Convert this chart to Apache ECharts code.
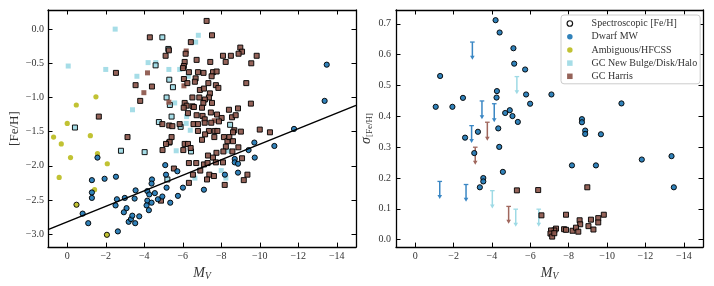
<!DOCTYPE html>
<html><head><meta charset="utf-8">
<script src="https://cdn.jsdelivr.net/npm/echarts@6/dist/echarts.min.js"></script>
<style>html,body{margin:0;padding:0;background:#fff}#c{width:714px;height:286px}</style>
</head><body><div id="c"></div>
<script>
// ---------- DATA (M_V, [Fe/H]) left panel ----------
const dwarfLeft = [[-1.57,-1.88],[-1.28,-2.21],[-1.94,-2.19],[-2.53,-2.16],[-1.28,-2.39],[-1.28,-2.47],[-0.8,-2.70],[-1.09,-2.84],
[-2.51,-2.58],[-2.58,-2.49],[-2.99,-2.47],[-3.08,-2.62],[-2.94,-2.68],[-3.19,-2.82],[-3.31,-2.78],[-3.38,-2.73],[-3.53,-2.84],
[-3.74,-2.74],[-2.63,-2.96],[-3.55,-2.36],[-3.5,-2.48],[-4.16,-2.37],[-4.16,-2.51],[-4.12,-2.58],[-4.24,-2.65],[-4.26,-2.42],
[-4.38,-2.54],[-4.4,-2.20],[-4.38,-2.26],[-4.55,-2.40],[-4.71,-2.49],[-4.94,-2.45],[-5.09,-1.99],[-5.13,-2.13],[-5.16,-2.32],
[-5.35,-2.54],[-5.72,-2.08],[-5.75,-2.44],[-6.01,-2.32],[-7.1,-2.35],[-8.19,-2.13],[-8.7,-1.90],[-8.7,-1.95],[-8.87,-1.97],
[-8.87,-2.10],[-9.42,-1.77],[-9.72,-1.66],[-9.74,-1.88],[-10.76,-1.71],[-11.78,-1.46],[-13.37,-1.05],[-13.48,-0.52]];
const ambigPhot = [[-1.49,-0.99],[-0.47,-1.11],[0.0,-1.38],[0.71,-1.58],[-1.2,-1.56],[0.31,-1.68],[-1.57,-1.82],[-0.17,-1.88],
[-2.08,-1.97],[0.42,-2.17],[-1.42,-2.35]];
const ambigSpec = [[-0.48,-2.57],[-2.06,-3.01]];
const gcNewPhot = [[-2.49,0.0],[-0.05,-0.54],[-2.0,-0.59],[-3.62,-0.69],[-4.2,-0.49],[-4.6,-0.49],[-5.28,-0.59],[-5.84,-0.59],
[-3.39,-1.18],[-5.58,-1.08],[-5.66,-1.78],[-6.81,-0.09],[-6.67,-0.19],[-6.29,-0.69],[-6.2,-1.28],[-6.18,-1.38],[-8.0,-2.07],
[-8.24,-2.18],[-6.63,-2.18],[-8.35,-1.78],[-6.39,-1.48]];
const gcNewSpec = [[-4.59,-0.53],[-4.94,-0.12],[-5.25,-0.29],[-5.3,-0.74],[-5.49,-0.85],[-5.16,-1.0],[-5.33,-1.11],[-5.42,-1.28],
[-0.4,-1.44],[-4.76,-1.36],[-5.3,-1.66],[-2.79,-1.78],[-4.02,-1.80],[-5.2,-2.2],[-5.89,-1.43],[-6.43,-1.79],[-8.46,-1.40]];
const harrisPhot = [[-4.17,-0.64],[-3.98,-0.93],[-5.28,-1.07],[-6.18,-0.32],[-6.06,-0.83],[-7.64,-1.34]];
const harrisSpec = [[-4.29,-0.12],[-5.28,-0.31],[-5.11,-0.39],[-2.53,-0.64],[-3.55,-0.82],[-4.4,-0.84],[-3.79,-1.05],[-1.64,-1.28],
[-3.13,-1.58],[-4.94,-1.39],[-5.3,-1.41],[-5.46,-1.42],[-5.42,-1.58],[-5.84,-1.39],[-5.32,-1.65],[-4.95,-1.77],[-5.13,-1.68],
[-5.54,-2.04],[-4.87,-2.51],
[-7.24,0.12],[-7.52,-0.09],[-6.42,-0.19],[-6.15,-0.36],[-6.72,-0.45],[-7.43,-0.48],[-8.09,-0.39],[-8.5,-0.39],[-8.23,-0.48],
[-8.99,-0.27],[-9.08,-0.33],[-8.9,-0.36],[-9.84,-0.39],[-9.56,-0.50],[-6.1,-0.48],[-6.06,-0.54],[-6.01,-0.57],[-6.32,-0.63],
[-6.79,-0.63],[-7.08,-0.64],[-7.57,-0.63],[-7.76,-0.62],[-7.5,-0.69],[-6.06,-0.73],[-6.67,-0.72],[-6.63,-0.77],[-6.24,-0.79],
[-7.33,-0.79],[-7.72,-0.82],[-7.85,-0.86],[-6.89,-0.89],[-7.1,-0.87],[-9.3,-0.79],[-7.41,-0.94],[-7.36,-1.0],[-6.5,-1.0],
[-6.86,-1.0],[-7.15,-1.03],[-7.07,-1.08],[-7.52,-1.08],[-6.1,-1.08],[-6.2,-1.12],[-6.51,-1.13],[-6.05,-1.15],[-6.58,-1.14],
[-7.0,-1.15],[-7.46,-1.22],[-6.27,-1.23],[-6.72,-1.26],[-7.03,-1.27],[-7.14,-1.32],[-7.78,-1.25],[-8.02,-1.30],[-8.4,-1.18],
[-8.56,-1.29],[-8.75,-1.26],[-8.87,-1.16],[-9.54,-1.09],
[-6.56,-1.39],[-6.79,-1.39],[-7.14,-1.37],[-7.48,-1.37],[-7.88,-1.35],[-7.36,-1.49],[-7.66,-1.49],[-7.8,-1.49],[-7.16,-1.54],
[-6.79,-1.49],[-8.68,-1.48],[-8.61,-1.51],[-9.02,-1.50],[-10.0,-1.47],[-10.53,-1.51],[-6.1,-1.68],[-6.27,-1.68],[-6.41,-1.74],
[-6.03,-1.77],[-7.0,-1.62],[-7.64,-1.58],[-8.14,-1.58],[-8.32,-1.64],[-8.42,-1.58],[-8.61,-1.64],[-8.24,-1.72],[-8.58,-1.79],
[-8.89,-1.73],[-8.11,-1.79],[-7.75,-1.81],[-7.31,-1.85],[-7.57,-1.88],[-7.1,-1.98],[-7.29,-1.96],[-7.72,-1.95],[-8.09,-1.95],
[-6.32,-1.96],[-6.7,-1.96],[-6.91,-2.07],[-6.53,-2.13],[-7.38,-2.13],[-7.62,-2.15],[-7.26,-2.20],[-6.32,-2.25],[-9.08,-1.89],
[-9.36,-2.13],[-9.17,-2.21],[-8.18,-2.28]];
const fitLine = [[1, -2.934], [-15, -1.116]];

// ---------- DATA (M_V, sigma[Fe/H]) right panel ----------
const dwarfRight = [[-4.19,0.712],[-4.40,0.672],[-5.12,0.621],[-5.16,0.571],[-5.73,0.552],[-1.30,0.531],[-4.26,0.482],[-5.78,0.471],
[-2.49,0.460],[-4.24,0.461],[-1.07,0.431],[-1.94,0.431],[-5.99,0.441],[-4.69,0.411],[-4.93,0.420],[-5.07,0.401],[-5.35,0.382],
[-4.33,0.361],[-3.27,0.350],[-2.6,0.331],[-3.08,0.281],[-4.38,0.301],[-4.57,0.220],[-3.55,0.200],[-3.55,0.189],[-3.37,0.170],
[-7.1,0.471],[-10.75,0.442],[-8.69,0.391],[-8.69,0.381],[-8.86,0.354],[-8.86,0.343],[-9.68,0.342],[-8.17,0.241],[-9.42,0.241],
[-11.81,0.260],[-13.36,0.271],[-13.48,0.170]];
const harrisRight = [[-5.3,0.160],[-6.41,0.161],[-6.58,0.079],[-8.97,0.170],[-7.86,0.081],[-9.83,0.081],[-8.57,0.063],[-9.16,0.065],
[-9.54,0.070],[-9.54,0.056],[-8.6,0.050],[-9.03,0.044],[-9.29,0.033],[-7.76,0.034],[-7.86,0.032],[-8.2,0.029],[-8.38,0.039],
[-8.5,0.026],[-7.34,0.036],[-7.25,0.030],[-7.08,0.030],[-7.05,0.020],[-7.14,0.010],[-7.25,0.021]];
// upper limits: [M_V, limit, arrow tip]
const limDwarf = [[-2.98,0.641,0.584],[-3.48,0.450,0.391],[-4.12,0.441,0.381],[-2.94,0.370,0.314],[-1.28,0.189,0.132],[-2.65,0.179,0.123]];
const limHarris = [[-3.76,0.381,0.321],[-3.13,0.300,0.243],[-4.87,0.108,0.052]];
const limNew = [[-5.3,0.529,0.472],[-4.02,0.159,0.101],[-5.24,0.099,0.042],[-6.44,0.099,0.042]];

// ---------- ticks ----------
const xTicks = [0,-2,-4,-6,-8,-10,-12,-14];
const yTicksLeft = [0,-0.5,-1,-1.5,-2,-2.5,-3];
const yTicksRight = [0,0.1,0.2,0.3,0.4,0.5,0.6,0.7];
const legendNames = ['Spectroscopic [Fe/H]','Dwarf MW','Ambiguous/HFCSS','GC New Bulge/Disk/Halo','GC Harris'];

const FONT = 'Liberation Serif';
const C_BLUE = '#1f77b4', C_YEL = '#bcbd22', C_CYAN = '#9edae5', C_BROWN = '#8c564b';
const fmtMinus = s => s.replace('-', '\u2212');

function xAx(grid, pos, showLabel, name) {
  return {
    type: 'value', gridIndex: grid, position: pos, inverse: true, min: -15, max: 1,
    axisLine: { show: true, onZero: false, lineStyle: { color: '#000', width: 1.3 } },
    axisTick: { show: true, inside: true, length: 4.5, customValues: xTicks, lineStyle: { color: '#000', width: 1 } },
    axisLabel: { show: showLabel, customValues: xTicks, margin: 4, color: '#333', fontFamily: FONT, fontSize: 10,
      formatter: v => fmtMinus(String(v)) },
    splitLine: { show: false },
    name: name || '', nameLocation: 'middle', nameGap: 11,
    nameTextStyle: { fontFamily: FONT, rich: {
      m: { fontFamily: FONT, fontStyle: 'italic', fontSize: 14, color: '#333', lineHeight: 16 },
      s: { fontFamily: FONT, fontStyle: 'italic', fontSize: 9.5, color: '#333', verticalAlign: 'bottom', lineHeight: 10 } } }
  };
}
function yAx(grid, pos, showLabel, min, max, ticks, dec, name, gap, margin) {
  return {
    type: 'value', gridIndex: grid, position: pos, min: min, max: max,
    axisLine: { show: true, onZero: false, lineStyle: { color: '#000', width: 1.3 } },
    axisTick: { show: true, inside: true, length: 4.5, customValues: ticks, lineStyle: { color: '#000', width: 1 } },
    axisLabel: { show: showLabel, customValues: ticks, margin: margin || 4, color: '#333', fontFamily: FONT, fontSize: 10,
      formatter: v => fmtMinus(v.toFixed(dec)) },
    splitLine: { show: false },
    name: name || '', nameLocation: 'middle', nameRotate: 90, nameGap: gap || 0,
    nameTextStyle: { fontFamily: FONT, fontSize: 13, color: '#333', rich: {
      a: { fontFamily: FONT, fontStyle: 'italic', fontSize: 14, color: '#333', lineHeight: 16 },
      b: { fontFamily: FONT, fontSize: 9, color: '#333', verticalAlign: 'bottom', lineHeight: 10 } } }
  };
}
function sc(name, data, x, y, sym, color, edge, z) {
  return {
    type: 'scatter', name: name, data: data, xAxisIndex: x, yAxisIndex: y, symbol: sym,
    symbolSize: sym === 'rect' ? 5 : 5.2, z: z, silent: true,
    itemStyle: { color: color, opacity: 0.92, borderColor: edge ? '#000' : 'transparent', borderWidth: edge ? 1 : 0 }
  };
}
function arrows(data, color) {
  return {
    type: 'custom', xAxisIndex: 2, yAxisIndex: 2, data: data, z: 3, silent: true,
    encode: { x: 0, y: [1, 2] },
    renderItem: (params, api) => {
      const a = api.coord([api.value(0), api.value(1)]);
      const b = api.coord([api.value(0), api.value(2)]);
      return { type: 'group', children: [
        { type: 'line', shape: { x1: a[0], y1: a[1], x2: b[0], y2: b[1] - 3 }, style: { stroke: color, lineWidth: 1.5 } },
        { type: 'line', shape: { x1: a[0] - 2.3, y1: a[1], x2: a[0] + 2.3, y2: a[1] }, style: { stroke: color, lineWidth: 1.3 } },
        { type: 'polygon', shape: { points: [[b[0] - 2.3, b[1] - 4], [b[0] + 2.3, b[1] - 4], [b[0], b[1]]] }, style: { fill: color } }
      ] };
    }
  };
}

const chart = echarts.init(document.getElementById('c'), null, { renderer: 'canvas' });
chart.setOption({
  animation: false,
  backgroundColor: '#fff',
  grid: [
    { left: 48, right: 358, top: 10, bottom: 37 },
    { left: 396, right: 11, top: 10, bottom: 37 }
  ],
  xAxis: [
    xAx(0, 'bottom', true, '{m|M}{s|V}'), xAx(0, 'top', false),
    xAx(1, 'bottom', true, '{m|M}{s|V}'), xAx(1, 'top', false)
  ],
  yAxis: [
    yAx(0, 'left', true, -3.19, 0.28, yTicksLeft, 1, '[Fe/H]', 27, 4),
    yAx(0, 'right', false, -3.19, 0.28, yTicksLeft, 1),
    yAx(1, 'left', true, -0.024, 0.745, yTicksRight, 1, '{a|σ}{b|[Fe/H]}', 21, 5),
    yAx(1, 'right', false, -0.024, 0.745, yTicksRight, 1)
  ],
  legend: {
    orient: 'vertical', left: 561, top: 15, padding: [2.5, 3, 1.5, 5.5],
    backgroundColor: '#fff', borderColor: '#cccccc', borderWidth: 1, borderRadius: 3,
    itemWidth: 5.5, itemHeight: 5.5, itemGap: 1.2, selectedMode: false,
    textStyle: { fontFamily: FONT, fontSize: 10, color: '#333', lineHeight: 12, padding: [0, 0, 0, 14] },
    data: [
      { name: legendNames[0], icon: 'circle', itemStyle: { color: '#fff', borderColor: '#000', borderWidth: 1.2 } },
      { name: legendNames[1], icon: 'circle', itemStyle: { color: C_BLUE, borderWidth: 0 } },
      { name: legendNames[2], icon: 'circle', itemStyle: { color: C_YEL, borderWidth: 0 } },
      { name: legendNames[3], icon: 'rect', itemStyle: { color: C_CYAN, borderWidth: 0 } },
      { name: legendNames[4], icon: 'rect', itemStyle: { color: C_BROWN, borderWidth: 0 } }
    ]
  },
  series: [
    sc(legendNames[0], [], 2, 2, 'circle', '#fff', true, 1),
    // left panel
    sc(legendNames[3], gcNewPhot, 0, 0, 'rect', C_CYAN, false, 2),
    sc(legendNames[3], gcNewSpec, 0, 0, 'rect', C_CYAN, true, 3),
    sc(legendNames[4], harrisPhot, 0, 0, 'rect', C_BROWN, false, 4),
    sc(legendNames[4], harrisSpec, 0, 0, 'rect', C_BROWN, true, 4),
    sc(legendNames[2], ambigPhot, 0, 0, 'circle', C_YEL, false, 5),
    sc(legendNames[2], ambigSpec, 0, 0, 'circle', C_YEL, true, 5),
    sc(legendNames[1], dwarfLeft, 0, 0, 'circle', C_BLUE, true, 6),
    { type: 'line', data: fitLine, xAxisIndex: 0, yAxisIndex: 0, symbol: 'none', z: 7, silent: true,
      lineStyle: { color: '#000', width: 1.5 } },
    // right panel
    arrows(limDwarf, '#3a87c4'),
    arrows(limHarris, '#a0675d'),
    arrows(limNew, '#9edae5'),
    sc(legendNames[4], harrisRight, 2, 2, 'rect', C_BROWN, true, 4),
    sc(legendNames[1], dwarfRight, 2, 2, 'circle', C_BLUE, true, 6)
  ]
});
</script>
</body></html>
